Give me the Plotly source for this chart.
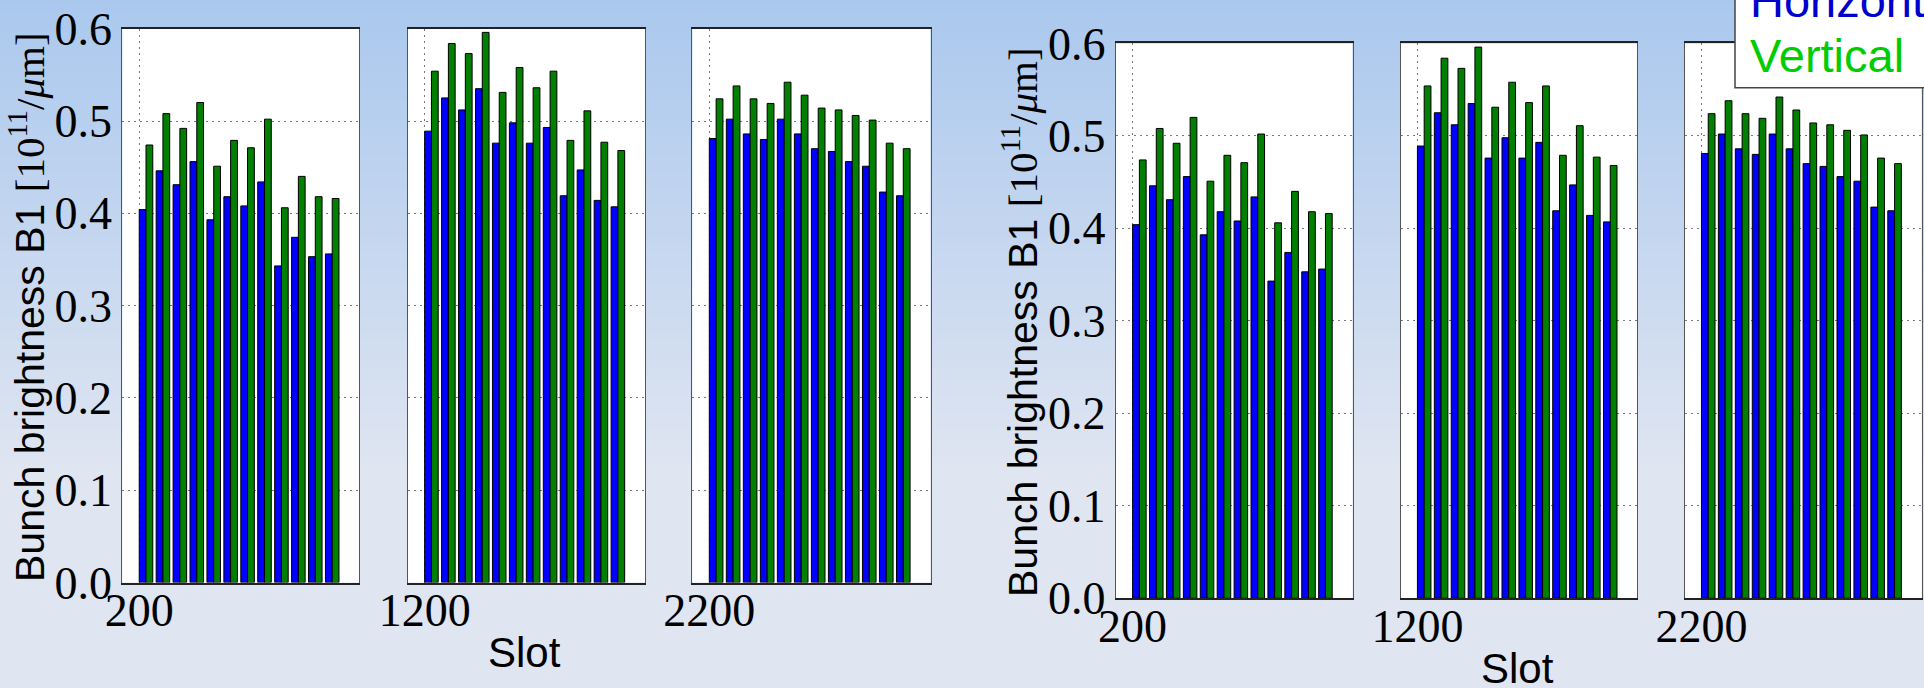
import plotly.graph_objects as go

W, H = 1924, 688

# ---------------- data ----------------
slots_a = [200, 202, 204, 206, 208, 210, 212, 214, 216, 218, 220, 222]
slots_b = [1200, 1202, 1204, 1206, 1208, 1210, 1212, 1214, 1216, 1218, 1220, 1222]
slots_c = [2200, 2202, 2204, 2206, 2208, 2210, 2212, 2214, 2216, 2218, 2220, 2222]

horiz_a = [0.404, 0.446, 0.431, 0.456, 0.393, 0.418, 0.408, 0.434, 0.343, 0.374, 0.353, 0.356]
vert_a = [0.474, 0.508, 0.492, 0.520, 0.451, 0.479, 0.471, 0.502, 0.406, 0.440, 0.418, 0.416]

horiz_b = [0.489, 0.525, 0.512, 0.535, 0.476, 0.498, 0.476, 0.493, 0.419, 0.447, 0.414, 0.407]
vert_b = [0.554, 0.584, 0.573, 0.596, 0.531, 0.558, 0.536, 0.554, 0.479, 0.511, 0.477, 0.468]

horiz_c = [0.481, 0.502, 0.486, 0.480, 0.502, 0.486, 0.470, 0.467, 0.456, 0.451, 0.423, 0.419]
vert_c = [0.524, 0.538, 0.524, 0.519, 0.542, 0.528, 0.514, 0.512, 0.506, 0.501, 0.476, 0.470]

first_slot_labels = ["200", "1200", "2200"]
y_ticks = [0.0, 0.1, 0.2, 0.3, 0.4, 0.5, 0.6]
y_tick_text = ["0.0", "0.1", "0.2", "0.3", "0.4", "0.5", "0.6"]

series_names = ["Horizontal", "Vertical"]
y_title = ('Bunch brightness B1 <span style="font-family:Liberation Serif">'
           '[10<sup>11</sup>/<i>μ</i>m]</span>')
x_title = "Slot"

panels = [(slots_a, horiz_a, vert_a), (slots_b, horiz_b, vert_b), (slots_c, horiz_c, vert_c)]

# ---------------- styling / layout (pixels) ----------------
BLUE = "#0000FF"
GREEN = "#007F00"
BAR_W = 0.8
SERIF = "Liberation Serif"
SANS = "Liberation Sans"
TICK_SIZE = 46

copies = [
    dict(top=28.7, bottom=582.5,
         boxes=[(122.3, 359.3), (407.7, 645.0), (692.3, 930.5)],
         ytitle=(27.0, 307.0), slot=(524.0, 652.0)),
    dict(top=43.4, bottom=598.3,
         boxes=[(1115.7, 1352.5), (1400.5, 1637.3), (1684.5, 1921.7)],
         ytitle=(1019.5, 322.5), slot=(1517.0, 668.0)),
]


def px(x):
    return x / W


def py(y):
    return 1 - y / H


fig = go.Figure()
layout = dict(
    template="none",
    width=W, height=H, autosize=False,
    margin=dict(l=0, r=0, t=0, b=0, pad=0),
    paper_bgcolor="#DFE5F1", plot_bgcolor="rgba(0,0,0,0)",
    barmode="overlay", showlegend=False,
)
shapes = []
annotations = []

# background gradient (slide background)
c0 = (0xAA, 0xC8, 0xEE)
c1 = (0xDF, 0xE5, 0xF1)
grad_end = 470
step = 4
yy = 0
while yy < H:
    t = min(1.0, (yy + step / 2) / grad_end)
    col = "rgb(%d,%d,%d)" % tuple(round(a + (b - a) * t) for a, b in zip(c0, c1))
    shapes.append(dict(type="rect", xref="paper", yref="paper", layer="below",
                       x0=0, x1=1, y0=py(min(H, yy + step + 0.5)), y1=py(yy),
                       fillcolor=col, line=dict(width=0)))
    yy += step

k = 0
for ci, cp in enumerate(copies):
    for pi, (slots, hv, vv) in enumerate(panels):
        k += 1
        xl, xr = cp["boxes"][pi]
        xa = "x" if k == 1 else "x%d" % k
        ya = "y" if k == 1 else "y%d" % k
        # white plot area
        shapes.append(dict(type="rect", xref="paper", yref="paper", layer="below",
                           x0=px(xl), x1=px(xr), y0=py(cp["bottom"]), y1=py(cp["top"]),
                           fillcolor="white", line=dict(width=0)))
        fig.add_trace(go.Bar(x=slots, y=hv, name=series_names[0], width=BAR_W, offset=0,
                             marker=dict(color=BLUE, line=dict(color="black", width=1)),
                             xaxis=xa, yaxis=ya))
        fig.add_trace(go.Bar(x=slots, y=vv, name=series_names[1], width=BAR_W, offset=BAR_W,
                             marker=dict(color=GREEN, line=dict(color="black", width=1)),
                             xaxis=xa, yaxis=ya))
        layout["xaxis" if k == 1 else "xaxis%d" % k] = dict(
            domain=[px(xl), px(xr)], anchor=ya, automargin=False,
            range=[slots[0] - 2, slots[0] + 26],
            tickvals=[slots[0]], ticktext=[first_slot_labels[pi]],
            tickfont=dict(family=SERIF, size=TICK_SIZE, color="black"),
            ticks="", ticklabelstandoff=-13,
            showgrid=True, gridcolor="#777777", griddash="2px,4px", gridwidth=1,
            zeroline=False, showline=True, linecolor="#222222", linewidth=1.5, mirror=True,
            fixedrange=True,
        )
        layout["yaxis" if k == 1 else "yaxis%d" % k] = dict(
            domain=[py(cp["bottom"]), py(cp["top"])], anchor=xa, automargin=False,
            range=[0, 0.6], tickvals=y_ticks, ticktext=y_tick_text,
            showticklabels=(pi == 0),
            tickfont=dict(family=SERIF, size=TICK_SIZE, color="black"),
            ticks="", showgrid=True, gridcolor="#777777", griddash="2px,4px", gridwidth=1,
            zeroline=False, showline=True, linecolor="#555555", linewidth=1.2, mirror=True,
            fixedrange=True,
        )
    # axis titles
    tx, ty = cp["ytitle"]
    annotations.append(dict(text=y_title, xref="paper", yref="paper",
                            x=px(tx), y=py(ty), xanchor="center", yanchor="middle",
                            textangle=-90, showarrow=False,
                            font=dict(family=SANS, size=41, color="black")))
    sx, sy = cp["slot"]
    annotations.append(dict(text=x_title, xref="paper", yref="paper",
                            x=px(sx), y=py(sy), xanchor="center", yanchor="middle",
                            showarrow=False,
                            font=dict(family=SANS, size=42, color="black")))

# legend box (slide text box, partially cut off)
shapes.append(dict(type="rect", xref="paper", yref="paper", layer="above",
                   x0=px(1735), x1=px(2010), y0=py(87.7), y1=py(-30),
                   fillcolor="white", line=dict(color="#444444", width=1.5)))
annotations.append(dict(text=series_names[0], xref="paper", yref="paper",
                        x=px(1748), y=py(0), xanchor="left", yanchor="middle",
                        showarrow=False, font=dict(family=SANS, size=47, color="#0000CC")))
annotations.append(dict(text=series_names[1], xref="paper", yref="paper",
                        x=px(1748), y=py(55), xanchor="left", yanchor="middle",
                        showarrow=False, font=dict(family=SANS, size=47, color="#00CC00")))

layout["shapes"] = shapes
layout["annotations"] = annotations
fig.update_layout(**layout)
fig.write_html("out.html", config=dict(displayModeBar=False))
